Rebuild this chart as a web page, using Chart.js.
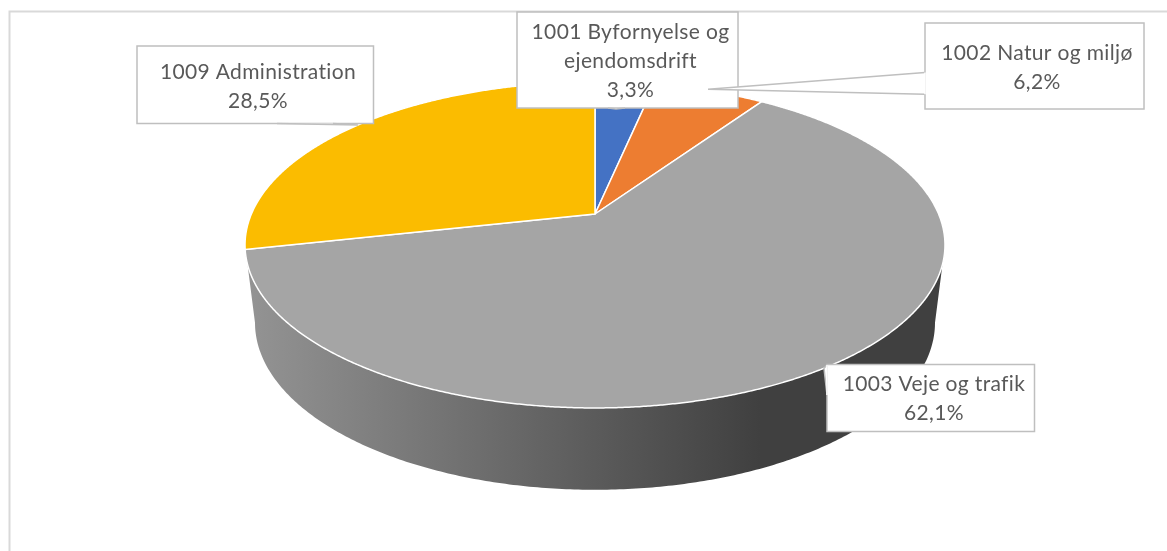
<!DOCTYPE html>
<html>
<head>
<meta charset="utf-8">
<title>Pie</title>
<script src="https://cdn.jsdelivr.net/npm/chart.js@4"></script>
<style>
  body { margin: 0; background: #fff; }
  canvas { display: block; }
</style>
</head>
<body>
<canvas id="pie" width="1167" height="551"></canvas>
<script>
const categories = ["1001 Byfornyelse og ejendomsdrift", "1002 Natur og miljø", "1003 Veje og trafik", "1009 Administration"];
const shares = [3.3, 6.2, 62.1, 28.5];
const sliceColors = ["#4472C4", "#ED7D31", "#A5A5A5", "#FBBC00"];

// text lines per label, the last line is the formatted share
const labelLines = [["1001 Byfornyelse og", "ejendomsdrift"], ["1002 Natur og miljø"], ["1003 Veje og trafik"], ["1009 Administration"]];

// callout boxes: x0,y0,x1,y1 box, cx text centre, y first text line, wedge polygon
// open: the box edge is hidden under the wedge base
const callouts = [
  { box: [517, 12, 738, 108], cx: 630.5, y: 32, wedge: [[608, 108], [616, 109], [625, 108]] },
  { box: [925, 23, 1144, 109], cx: 1037, y: 53, wedge: [[925, 72.5], [708, 89.3], [925, 94.3]], open: true },
  { box: [827, 364.5, 1034.5, 431.5], cx: 934, y: 384, wedge: [[827, 365], [824, 368.3], [827, 395]], open: true },
  { box: [137, 46, 373.5, 123.5], cx: 258, y: 72, wedge: [[277, 123.5], [358, 125], [333, 123.5]] }
];

// perspective of the pie: top face and the (smaller, lower) bottom rim
const top3d = { cx: 595, cy: 214, a: 343.6, b: 157.1, k: 0.19 };
const rim3d = { cx: 595, cy: 291, a: 333.8, b: 161, k: 0.19 };

function project(p, angle) {
  const u = Math.cos(angle);
  const v = -Math.sin(angle);
  const d = 1 + p.k * v;
  return [p.cx + p.a * u / d, p.cy - p.b * v / d];
}

function traceWall(ctx) {
  const start = Math.asin(top3d.k);
  const end = Math.PI - start;
  const p0 = project(top3d, start);
  ctx.beginPath();
  ctx.moveTo(p0[0], p0[1]);
  for (let a = start; a <= end; a += 0.01) {
    const p = project(rim3d, a);
    ctx.lineTo(p[0], p[1]);
  }
  const r = project(rim3d, end);
  const t = project(top3d, end);
  ctx.lineTo(r[0], r[1]);
  ctx.lineTo(t[0], t[1]);
  for (let a = end; a >= start; a -= 0.01) {
    const p = project(top3d, a);
    ctx.lineTo(p[0], p[1]);
  }
  ctx.closePath();
}

function drawSlice(ctx, arc, color) {
  ctx.beginPath();
  ctx.moveTo(top3d.cx, top3d.cy);
  for (let a = arc.startAngle; a < arc.endAngle; a += 0.005) {
    const p = project(top3d, a);
    ctx.lineTo(p[0], p[1]);
  }
  const last = project(top3d, arc.endAngle);
  ctx.lineTo(last[0], last[1]);
  ctx.closePath();
  ctx.fillStyle = color;
  ctx.fill();
  ctx.strokeStyle = "#fff";
  ctx.lineWidth = 1.5;
  ctx.stroke();
}

const pie3d = {
  id: "pie3d",
  beforeDatasetDraw(chart, args) {
    const ctx = chart.ctx;
    // frame, only top and left are in the picture
    ctx.strokeStyle = "#d9d9d9";
    ctx.lineWidth = 2;
    ctx.beginPath();
    ctx.moveTo(9.5, 551);
    ctx.lineTo(9.5, 11.5);
    ctx.lineTo(1167, 11.5);
    ctx.stroke();

    const wall = ctx.createLinearGradient(245, 0, 760, 0);
    wall.addColorStop(0, "#949494");
    wall.addColorStop(1, "#404040");
    traceWall(ctx);
    ctx.fillStyle = wall;
    ctx.fill();

    args.meta.data.forEach((arc, i) => drawSlice(ctx, arc, sliceColors[i]));
    return false;
  },
  afterDatasetsDraw(chart) {
    const ctx = chart.ctx;
    callouts.forEach((c, i) => {
      const [x0, y0, x1, y1] = c.box;
      ctx.fillStyle = "#fff";
      ctx.strokeStyle = "#bfbfbf";
      ctx.lineWidth = 1.5;
      ctx.fillRect(x0, y0, x1 - x0, y1 - y0);
      ctx.strokeRect(x0, y0, x1 - x0, y1 - y0);
      ctx.beginPath();
      c.wedge.forEach((p, n) => (n ? ctx.lineTo(p[0], p[1]) : ctx.moveTo(p[0], p[1])));
      ctx.fill();
      ctx.stroke();
      if (c.open) {
        ctx.beginPath();
        ctx.moveTo(c.wedge[0][0], c.wedge[0][1]);
        ctx.lineTo(c.wedge[2][0], c.wedge[2][1]);
        ctx.strokeStyle = "#fff";
        ctx.stroke();
      }

      ctx.fillStyle = "#595959";
      ctx.font = "21px Lato";
      ctx.letterSpacing = "0.35px";
      ctx.textAlign = "center";
      ctx.textBaseline = "middle";
      const lines = labelLines[i].concat(shares[i].toFixed(1).replace(".", ",") + "%");
      lines.forEach((line, n) => ctx.fillText(line, c.cx, c.y + n * 29));
    });
  }
};

new Chart(document.getElementById("pie"), {
  type: "pie",
  data: {
    labels: categories,
    datasets: [{ data: shares, backgroundColor: sliceColors, clip: false }]
  },
  options: {
    responsive: false,
    animation: false,
    plugins: { legend: { display: false }, tooltip: { enabled: false } }
  },
  plugins: [pie3d]
});
</script>
</body>
</html>
